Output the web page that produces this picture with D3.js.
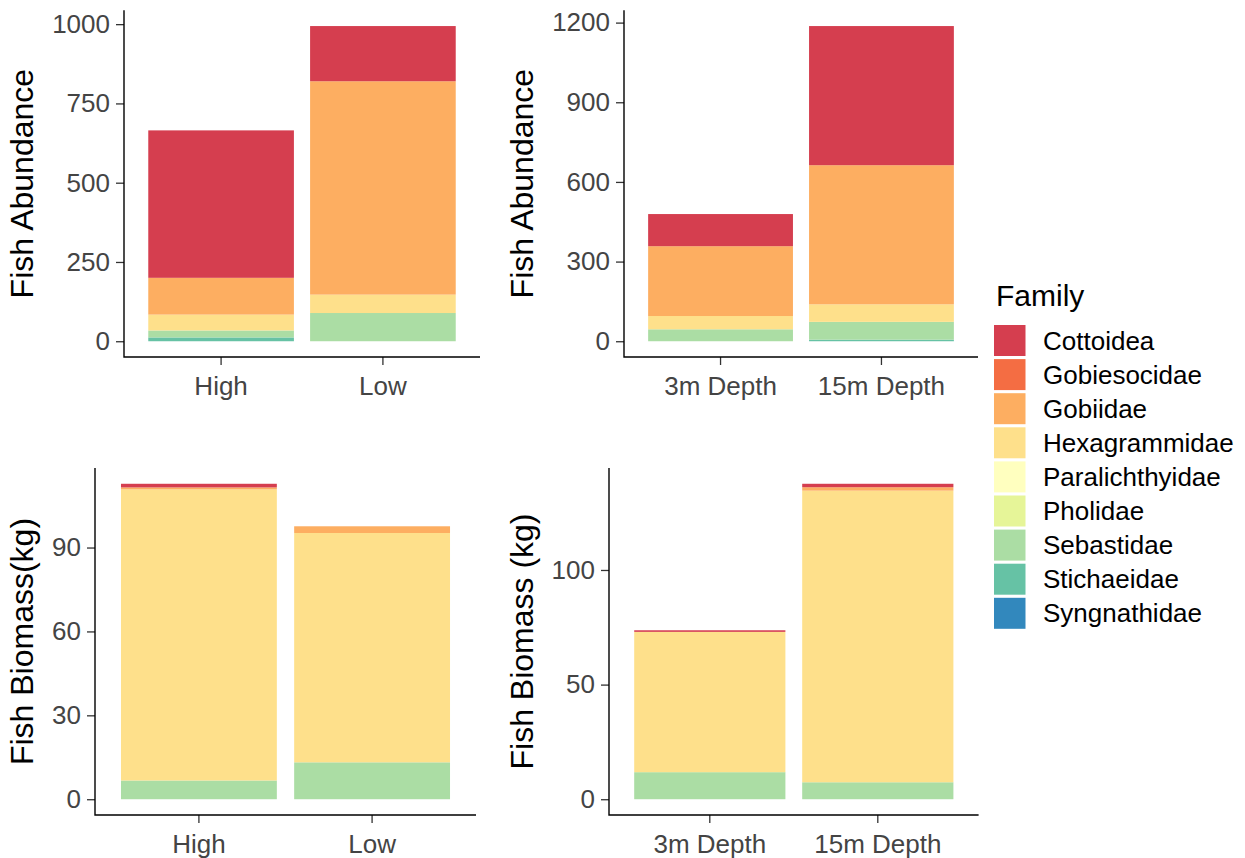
<!DOCTYPE html>
<html><head><meta charset="utf-8">
<script src="https://cdn.jsdelivr.net/npm/d3@7"></script>
<style>body{margin:0;background:#fff}svg{display:block;font-family:"Liberation Sans",Arial,sans-serif}</style>
</head><body>
<svg id="c" width="1245" height="858"></svg>
<script>
const families = ["Cottoidea","Gobiesocidae","Gobiidae","Hexagrammidae","Paralichthyidae","Pholidae","Sebastidae","Stichaeidae","Syngnathidae"];
const colors = ["#D53E4F","#F46D43","#FDAE61","#FEE08B","#FFFFBF","#E6F598","#ABDDA4","#66C2A5","#3288BD"];
const habitatCats = ["High","Low"];
const depthCats = ["3m Depth","15m Depth"];
// rows follow families order; columns follow categories
const abundanceHabitat = [[465,174],[0,0],[116,673],[50,58],[0,0],[0,0],[22,89],[12,0],[0,0]];
const abundanceDepth   = [[121,524],[0,0],[263,524],[50,66],[0,0],[0,0],[45,67],[0,6],[0,0]];
const biomassHabitat   = [[1.3,0],[0,0],[0.7,2.4],[104.1,82.0],[0,0],[0,0],[6.7,13.2],[0,0],[0,0]];
const biomassDepth     = [[0.7,1.5],[0,0],[0,1.5],[61.2,127.2],[0,0],[0,0],[11.8,7.4],[0,0],[0,0]];
const ticksAbH = [0,250,500,750,1000];
const ticksAbD = [0,300,600,900,1200];
const ticksBiH = [0,30,60,90];
const ticksBiD = [0,50,100];

const panels = [
  {x0:124,x1:480,y0:10.3,y1:357,tx:33,cats:habitatCats,vals:abundanceHabitat,ticks:ticksAbH,title:"Fish Abundance"},
  {x0:624,x1:978,y0:10.3,y1:357,tx:533,cats:depthCats,vals:abundanceDepth,ticks:ticksAbD,title:"Fish Abundance"},
  {x0:95,x1:476,y0:468,y1:815,tx:33,cats:habitatCats,vals:biomassHabitat,ticks:ticksBiH,title:"Fish Biomass(kg)"},
  {x0:609,x1:978.6,y0:468,y1:815,tx:533,cats:depthCats,vals:biomassDepth,ticks:ticksBiD,title:"Fish Biomass (kg)"}
];
const svg = d3.select("#c");
const tickCol = "#444444";

panels.forEach(p => {
  const g = svg.append("g");
  const totals = p.cats.map((c,j)=>d3.sum(p.vals,r=>r[j]));
  const mx = d3.max(totals);
  const x = d3.scaleBand().domain(p.cats).range([p.x0,p.x1]).paddingInner(0.1).paddingOuter(0.15);
  const y = d3.scaleLinear().domain([-0.05*mx,1.05*mx]).range([p.y1,p.y0]);
  // stack: first family on top => stack from last to first
  const rows = p.cats.map((c,j)=>{const o={cat:c}; families.forEach((f,i)=>o[f]=p.vals[i][j]); return o;});
  const stack = d3.stack().keys(families.slice().reverse())(rows);
  stack.forEach(layer=>{
    const ci = families.indexOf(layer.key);
    g.selectAll(null).data(layer.filter(d=>d[1]-d[0]>0)).enter().append("rect")
      .attr("x",d=>x(d.data.cat)).attr("width",x.bandwidth())
      .attr("y",d=>y(d[1])).attr("height",d=>y(d[0])-y(d[1]))
      .attr("fill",colors[ci]);
  });
  // axes
  const ya = g.append("g").attr("transform",`translate(${p.x0},0)`)
    .call(d3.axisLeft(y).tickValues(p.ticks).tickSize(8).tickPadding(6).tickFormat(d3.format("d")));
  ya.select(".domain").remove();
  const xa = g.append("g").attr("transform",`translate(0,${p.y1})`)
    .call(d3.axisBottom(x).tickSize(8).tickPadding(12));
  xa.select(".domain").remove();
  [ya,xa].forEach(a=>{
    a.selectAll(".tick line").attr("stroke","#333333").attr("stroke-width",1.3);
    a.selectAll(".tick text").attr("fill",tickCol).style("font-size","26px").style("font-family",'"Liberation Sans",Arial,sans-serif');
  });
  xa.selectAll(".tick text").attr("dy","0.71em");
  g.append("path").attr("d",`M${p.x0},${p.y0}V${p.y1}H${p.x1}`).attr("fill","none").attr("stroke","#000").attr("stroke-width",1.4);
  g.append("text").attr("transform",`translate(${p.tx},${(p.y0+p.y1)/2}) rotate(-90)`)
    .attr("text-anchor","middle").style("font-size","32px").attr("fill","#000").text(p.title);
});

// legend
const lg = svg.append("g");
lg.append("text").attr("x",996).attr("y",306).style("font-size","30px").attr("fill","#000").text("Family");
families.forEach((f,i)=>{
  const yy = 325 + i*34.1;
  lg.append("rect").attr("x",994).attr("y",yy).attr("width",31.5).attr("height",31).attr("fill",colors[i]);
  lg.append("text").attr("x",1043).attr("y",yy+15.5).attr("dy","0.35em").style("font-size","26px").attr("fill","#000").text(f);
});
</script>
</body></html>
